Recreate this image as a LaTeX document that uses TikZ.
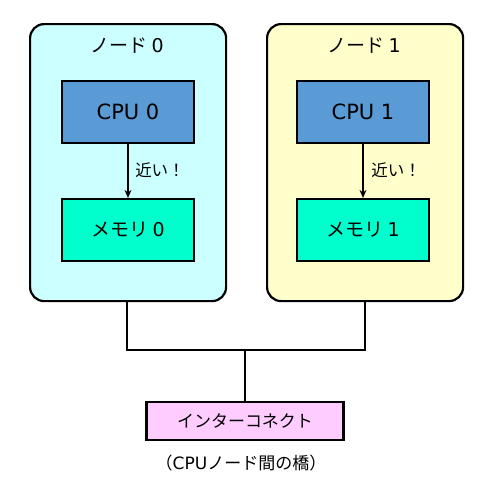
\documentclass[tikz,border=0pt]{standalone}
\usepackage{fontspec}
\setmainfont{Noto Sans CJK JP}
\newfontfamily\lat{DejaVu Sans}
\usetikzlibrary{arrows.meta}
\begin{document}
\begin{tikzpicture}[x=1pt,y=-1pt,
  nodebox/.style={draw=black,line width=2.2pt,rounded corners=14pt,minimum width=196pt,minimum height=277pt,anchor=north west},
  unitbox/.style={draw=black,line width=2.2pt,minimum width=132pt,minimum height=62pt,font=\fontsize{19}{22}\selectfont},
  conn/.style={line width=2.6pt},
  arr/.style={line width=2pt,-{Stealth[length=8pt,width=7pt]}},
  ttl/.style={font=\fontsize{19}{22}\selectfont},
  lbl/.style={font=\fontsize{16.5}{19}\selectfont}]
\useasboundingbox (0,0) rectangle (491,491);
\definecolor{nzero}{HTML}{CCFFFF}
\definecolor{nonec}{HTML}{FFFFCC}
\definecolor{cpuc}{HTML}{5B9BD5}
\definecolor{memc}{HTML}{00FFCC}
\definecolor{icc}{HTML}{FFCCFF}
\node[nodebox,fill=nzero] (n0) at (29,23) {};
\node[nodebox,fill=nonec] (n1) at (266,23) {};
\node[ttl] (t0) at (127,46) {ノード {\lat 0}};
\node[ttl] (t1) at (364,46) {ノード {\lat 1}};
\node[unitbox,fill=cpuc] (c0) at (128,112) {\fontsize{21}{24}\selectfont\lat CPU 0};
\node[unitbox,fill=memc] (m0) at (128,230) {メモリ {\lat 0}};
\node[unitbox,fill=cpuc] (c1) at (363,112) {\fontsize{21}{24}\selectfont\lat CPU 1};
\node[unitbox,fill=memc] (m1) at (363,230) {メモリ {\lat 1}};
\draw[arr] (c0) -- (m0);
\draw[arr] (c1) -- (m1);
\node[lbl] (k0) at (160,170) {近い！};
\node[lbl] (k1) at (396,170) {近い！};
\node[draw=black,line width=2.2pt,fill=icc,minimum width=197pt,minimum height=38pt,font=\fontsize{17}{20}\selectfont] (ic) at (245,421) {インターコネクト};
\node[font=\fontsize{17}{20}\selectfont] (cap) at (241,463) {（{\lat CPU}ノード間の橋）};
\coordinate (hl) at (127,350);
\coordinate (hr) at (365,350);
\coordinate (hm) at (245,350);
\draw[conn] (n0.south -| hl) -- (hl) -- (hr) -- (n1.south -| hr);
\draw[conn] (hm) -- (ic.north);
\end{tikzpicture}
\end{document}
